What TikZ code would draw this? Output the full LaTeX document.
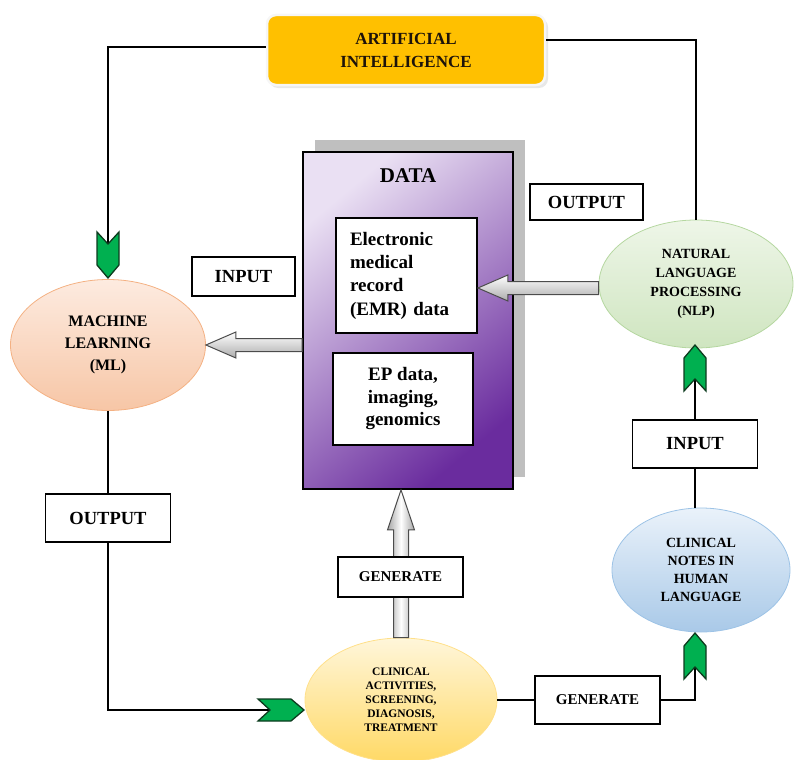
\documentclass[tikz,border=0pt]{standalone}
\usepackage{fontspec}
\setmainfont{Liberation Serif}
\usetikzlibrary{shapes.geometric,calc}
\definecolor{aiyel}{HTML}{FFC000}
\definecolor{chevfill}{HTML}{00B050}
\definecolor{chevdraw}{HTML}{0D3B1E}
\definecolor{mltop}{HTML}{FDEBE0}
\definecolor{mlbot}{HTML}{F7C6A6}
\definecolor{mledge}{HTML}{F4B183}
\definecolor{nlptop}{HTML}{EEF6E8}
\definecolor{nlpbot}{HTML}{CFE5C0}
\definecolor{nlpedge}{HTML}{B5D7A0}
\definecolor{ntop}{HTML}{EAF2FA}
\definecolor{nbot}{HTML}{A9C9E8}
\definecolor{nedge}{HTML}{9DC3E6}
\definecolor{ctop}{HTML}{FFF6DA}
\definecolor{cbot}{HTML}{FFD966}
\definecolor{cedge}{HTML}{FFE08A}
\definecolor{dtop}{HTML}{EAE0F3}
\definecolor{dmid}{HTML}{C2A3DC}
\definecolor{dbot}{HTML}{6A2C9E}
\begin{document}
\begin{tikzpicture}[x=1pt,y=-1pt,
  conn/.style={draw=black, line width=1.6pt},
  lbl/.style={draw=black, line width=1.8pt, fill=white, inner sep=0pt,
    font=\bfseries\fontsize{18.5}{20}\selectfont},
  glbl/.style={lbl, font=\bfseries\fontsize{15}{17}\selectfont},
  ell/.style={ellipse, inner sep=0pt, line width=0.8pt, align=center},
  hollow/.style={draw=gray!60!black, line width=1pt, line join=miter},
  chev/.pic={\path[fill=chevfill, draw=chevdraw, line width=1.3pt, line join=miter]
     (-11,23) -- (0,11) -- (11,23) -- (11,-10) -- (0,-23) -- (-11,-10) -- cycle;}
]
\useasboundingbox (0,0) rectangle (795,760);

% ---- AI box
\fill[gray!18, rounded corners=9pt] (269,18) rectangle (548,88);
\node[draw=white!93!gray, line width=2.5pt, fill=aiyel, rounded corners=9pt,
  minimum width=278pt, minimum height=70pt, align=center,
  font=\bfseries\fontsize{17}{23}\selectfont, text=black!85!brown] (ai) at (406,50)
  {ARTIFICIAL\\INTELLIGENCE};

% ---- DATA box
\fill[gray!50] (315,140) rectangle (525,477);
\shade[shading=axis, top color=dtop, middle color=dmid, bottom color=dbot, shading angle=40]
  (303,152) rectangle (513,489);
\node[draw=black, line width=1.8pt, minimum width=210pt, minimum height=337pt,
  inner sep=0pt] (data) at (408,320.5) {};
\node[font=\bfseries\fontsize{21}{23}\selectfont] (datat) at (408,176) {DATA};
\node[draw=black, line width=1.8pt, fill=white, minimum width=141pt, minimum height=115pt,
  text width=113pt, inner xsep=14pt, inner ysep=0pt, align=left,
  font=\bfseries\fontsize{19}{23.3}\selectfont] (emr) at (406.5,275.5)
  {Electronic\\medical\\record\\(EMR) data};
\node[draw=black, line width=1.8pt, fill=white, minimum width=140pt, minimum height=92pt,
  inner sep=0pt, align=center,
  font=\bfseries\fontsize{19}{22.5}\selectfont] (ep) at (403,399)
  {EP data,\\imaging,\\genomics};

% ---- ellipses
\node[ell, minimum width=195pt, minimum height=131pt, draw=mledge,
  top color=mltop, bottom color=mlbot,
  font=\bfseries\fontsize{16}{22}\selectfont] (ml) at (108,345)
  {MACHINE\\LEARNING\\(ML)};
\node[ell, minimum width=194pt, minimum height=128pt, draw=nlpedge,
  top color=nlptop, bottom color=nlpbot,
  font=\bfseries\fontsize{14}{19}\selectfont] (nlp) at (696,284)
  {NATURAL\\LANGUAGE\\PROCESSING\\(NLP)};
\node[ell, minimum width=178pt, minimum height=124pt, draw=nedge,
  top color=ntop, bottom color=nbot,
  font=\bfseries\fontsize{14}{18}\selectfont] (notes) at (701,570)
  {CLINICAL\\NOTES IN\\HUMAN\\LANGUAGE};
\node[ell, minimum width=192pt, minimum height=124pt, draw=cedge,
  top color=ctop, bottom color=cbot,
  font=\bfseries\fontsize{11.5}{14}\selectfont] (clin) at (401,700)
  {CLINICAL\\ACTIVITIES,\\SCREENING,\\DIAGNOSIS,\\TREATMENT};

% ---- label boxes
\node[lbl, minimum width=103pt, minimum height=39pt] (in1) at (243.5,276.5) {INPUT};
\node[lbl, minimum width=113pt, minimum height=36pt] (out2) at (586.5,202) {OUTPUT};
\node[lbl, minimum width=125pt, minimum height=48pt] (in2) at (695,444) {INPUT};
\node[lbl, minimum width=125pt, minimum height=48pt] (out1) at (108,518) {OUTPUT};

% ---- hollow arrows
\path[hollow, top color=white, bottom color=gray!65]
  let \p1=(ml.east), \p2=(data.west) in
  (\x1,\y1) -- (\x1+30,\y1+13) -- (\x1+30,\y1+6.5) -- (\x2,\y1+6.5)
  -- (\x2,\y1-6.5) -- (\x1+30,\y1-6.5) -- (\x1+30,\y1-13) -- cycle;
\coordinate (nlpin) at ([yshift=-4pt]nlp.west);
\path[hollow, top color=white, bottom color=gray!65]
  let \p1=(emr.east |- nlpin), \p2=(nlpin) in
  (\x1,\y1) -- (\x1+30,\y1+13) -- (\x1+30,\y1+6.5) -- (\x2,\y1+6.5)
  -- (\x2,\y1-6.5) -- (\x1+30,\y1-6.5) -- (\x1+30,\y1-13) -- cycle;
\path[hollow, left color=gray!70, right color=gray!70, middle color=white]
  let \p1=(clin.north |- data.south), \p2=(clin.north) in
  (\x1,\y1) -- (\x1+13.5,\y1-40) -- (\x1+7.5,\y1-40) -- (\x1+7.5,\y2)
  -- (\x1-7.5,\y2) -- (\x1-7.5,\y1-40) -- (\x1-13.5,\y1-40) -- cycle;
\node[glbl, minimum width=125pt, minimum height=40pt] (gen1) at (400.5,577) {GENERATE};

% ---- connectors
\coordinate (c1) at (108,255);
\draw[conn] ([yshift=3pt]ai.west) -| (c1);
\pic[rotate=180] at (c1) {chev};

\draw[conn] ([yshift=10pt]ai.east) -| (nlp.north);

\coordinate (c2) at (695,368);
\draw[conn] (in2.north) -- (c2);
\pic at (c2) {chev};
\draw[conn] (in2.south) -- (in2.south |- notes.north);

\node[glbl, minimum width=125pt, minimum height=48pt] (gen2) at (597.5,700) {GENERATE};
\draw[conn] (clin.east) -- (gen2.west);
\coordinate (c3) at (695,656);
\draw[conn] (gen2.east) -| (c3);
\pic at (c3) {chev};

\draw[conn] (ml.south) -- (out1.north);
\coordinate (c4) at (281,710);
\draw[conn] (out1.south) |- (c4);
\pic[rotate=-90] at (c4) {chev};
\end{tikzpicture}
\end{document}
